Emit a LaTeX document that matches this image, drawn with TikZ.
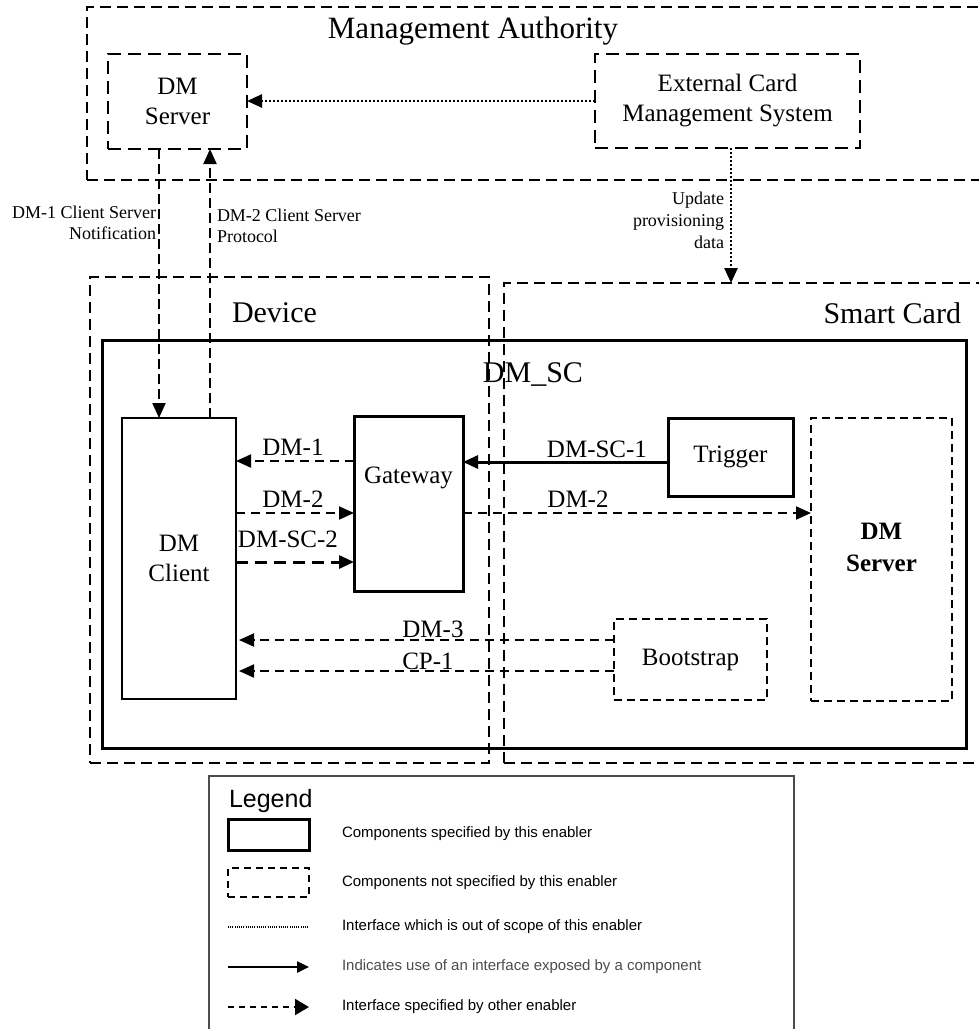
\documentclass[tikz,border=0pt]{standalone}
\usepackage{fontspec}
\setmainfont{Liberation Serif}
\newfontfamily\legfont{Liberation Sans}
\usetikzlibrary{arrows.meta}
\begin{document}
\begin{tikzpicture}[x=1pt,y=-1pt,
  every node/.style={inner sep=0pt, outer sep=0pt},
  grp/.style={draw, line width=1.6pt, dash pattern=on 11pt off 6pt},
  extbox/.style={draw, line width=2.4pt, dash pattern=on 13pt off 7pt, align=center, font=\fontsize{25}{30}\selectfont},
  scbox/.style={draw, line width=2pt, dash pattern=on 8pt off 5pt, align=center, font=\fontsize{25}{31}\selectfont},
  compbox/.style={draw, line width=3pt, align=center, font=\fontsize{25}{30}\selectfont},
  thinbox/.style={draw, line width=1.8pt, align=center, font=\fontsize{25}{30}\selectfont},
  tipb/.style={-{Triangle[length=15pt,width=13pt]}},
  dsharrow/.style={tipb, line width=2pt, dash pattern=on 9pt off 6pt},
  dsharrowb/.style={tipb, line width=3pt, dash pattern=on 12pt off 7pt},
  solarrow/.style={tipb, line width=3pt},
  dotarrow/.style={tipb, line width=2.5pt, dash pattern=on 2pt off 2pt},
  lbl/.style={font=\fontsize{25}{30}\selectfont},
  small/.style={font=\fontsize{18}{21}\selectfont},
  big/.style={font=\fontsize{30}{36}\selectfont},
  legtxt/.style={font=\legfont\fontsize{15}{18}\selectfont, anchor=west}
]
\useasboundingbox (0,0) rectangle (979,1029);

% groups
\node[grp, minimum width=903, minimum height=173] (ma) at (538.5,93.5) {};
\node[big, font=\fontsize{31}{36}\selectfont, anchor=base] (matitle) at (473,38) {Management Authority};
\node[grp, minimum width=399, minimum height=486] (dev) at (289.5,520) {};
\node[big, anchor=base west] (devtitle) at (232,322) {Device};
\node[grp, minimum width=486, minimum height=480] (sc) at (747,523) {};
\node[big, anchor=base east] (sctitle) at (961,323) {Smart Card};
\node[draw, line width=3pt, minimum width=864, minimum height=408] (dmsc) at (534,544) {};
\node[big, anchor=base] (dmsctitle) at (533,382) {DM\_SC};

% components
\node[extbox, minimum width=139, minimum height=95] (dms) at (177.5,101.5) {DM\\Server};
\node[extbox, minimum width=265, minimum height=94] (ext) at (727.5,101) {External Card\\Management System};
\node[thinbox, minimum width=114, minimum height=281] (dmc) at (179,558.5) {DM\\Client};
\node[compbox, minimum width=109, minimum height=175] (gw) at (408.5,503.5) {};
\node[lbl, anchor=base] (gwtext) at (408.5,483) {Gateway};
\node[compbox, minimum width=125, minimum height=78] (trig) at (730.5,457) {Trigger};
\node[scbox, minimum width=141, minimum height=283] (dmssc) at (881.5,559.5) {};
\node[scbox, draw=none, font=\bfseries\fontsize{25}{32}\selectfont] (dmssctext) at (881.5,547) {DM\\Server};
\node[scbox, minimum width=153, minimum height=81] (boot) at (690.5,659.5) {Bootstrap};

% helper coordinates
\coordinate (c1) at (159,0);
\coordinate (c2) at (210,0);
\coordinate (c3) at (731,0);
\coordinate (r1) at (0,461);
\coordinate (r1b) at (0,462);
\coordinate (r2) at (0,513);
\coordinate (r2b) at (0,562);
\coordinate (r3) at (0,640);
\coordinate (r4) at (0,671);

% connectors
\draw[dotarrow] (ext.west) -- (ext.west -| dms.east);
\draw[dsharrow, dash pattern=on 10pt off 5pt] (dms.south -| c1) -- (dmc.north -| c1);
\draw[dsharrow, dash pattern=on 10pt off 5pt] (dmc.north -| c2) -- (dms.south -| c2);
\draw[dotarrow] (ext.south -| c3) -- (sc.north -| c3);

\draw[dsharrow] (gw.west |- r1) -- (dmc.east |- r1);
\draw[dsharrow] (dmc.east |- r2) -- (gw.west |- r2);
\draw[dsharrowb] (dmc.east |- r2b) -- (gw.west |- r2b);
\draw[solarrow] (trig.west |- r1b) -- (gw.east |- r1b);
\draw[dsharrow] (gw.east |- r2) -- (dmssc.west |- r2);
\draw[dsharrow] (boot.west |- r3) -- ([xshift=3pt]dmc.east |- r3);
\draw[dsharrow] (boot.west |- r4) -- ([xshift=3pt]dmc.east |- r4);

% labels
\node[small, align=right, anchor=north east] (l1) at (156,206) {DM-1 Client Server\\Notification};
\node[small, align=left, anchor=north west] (l2) at (217,209) {DM-2 Client Server\\Protocol};
\node[small, align=right, anchor=north east, font=\fontsize{18}{22}\selectfont] (l3) at (724,192) {Update\\provisioning\\data};
\node[lbl, anchor=base] (ldm1) at (293,455) {DM-1};
\node[lbl, anchor=base] (ldm2) at (293,507) {DM-2};
\node[lbl, anchor=base] (ldmsc2) at (288,547) {DM-SC-2};
\node[lbl, anchor=base] (ldmsc1) at (597,457) {DM-SC-1};
\node[lbl, anchor=base] (ldm2b) at (578,507) {DM-2};
\node[lbl, anchor=base] (ldm3) at (433,637) {DM-3};
\node[lbl, anchor=base] (lcp1) at (428,669) {CP-1};

% legend
\node[draw=black!70, line width=1.2pt, minimum width=585, minimum height=270, anchor=north west] (leg) at (209,776) {};
\node[font=\legfont\fontsize{25}{28}\selectfont, anchor=base west] (legtitle) at (229,807) {Legend};
\node[draw, line width=3pt, minimum width=81, minimum height=31] (lg1) at (268.5,834.5) {};
\node[draw, line width=2pt, dash pattern=on 7pt off 5pt, minimum width=81, minimum height=29] (lg2) at (268.5,882.5) {};
\coordinate (lg3a) at (228,927);
\coordinate (lg3b) at (309,927);
\coordinate (lg4a) at (228,967);
\coordinate (lg4b) at (309,967);
\coordinate (lg5a) at (228,1007);
\coordinate (lg5b) at (309,1007);
\draw[line width=1.2pt, dash pattern=on 1pt off 1.2pt] (lg3a) -- (lg3b);
\draw[line width=2.5pt, -{Triangle[length=12pt,width=11pt]}] (lg4a) -- (lg4b);
\draw[line width=2pt, dash pattern=on 6pt off 5pt, -{Triangle[length=14pt,width=16pt]}] (lg5a) -- (lg5b);
\node[legtxt] (t1) at (342,834) {Components specified by this enabler};
\node[legtxt] (t2) at (342,883) {Components not specified by this enabler};
\node[legtxt] (t3) at (342,927) {Interface which is out of scope of this enabler};
\node[legtxt, text=black!70] (t4) at (342,967) {Indicates use of an interface exposed by a component};
\node[legtxt] (t5) at (342,1007) {Interface specified by other enabler};
\end{tikzpicture}
\end{document}
